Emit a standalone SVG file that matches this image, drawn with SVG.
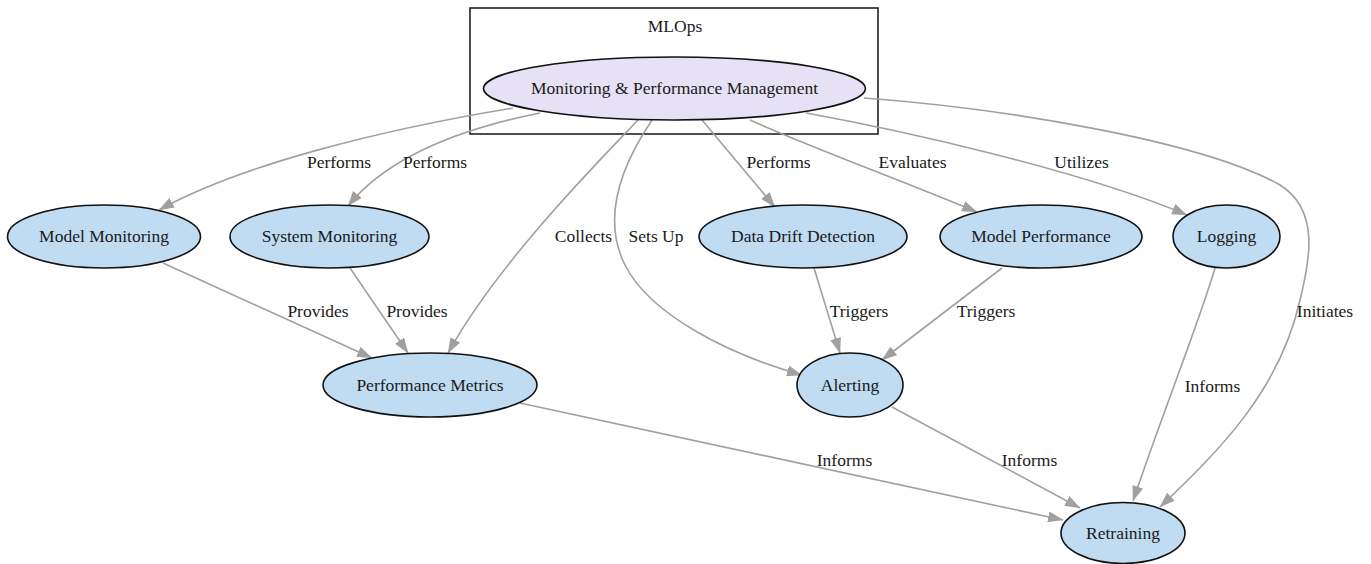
<svg xmlns="http://www.w3.org/2000/svg" width="1371" height="564" viewBox="0 0 1371 564">
<style>
  .node ellipse { fill: #BFDCF2; stroke: #111; stroke-width: 1.6; }
  .node.main ellipse { fill: #E6E1F4; }
  .nl { font-family: "Liberation Serif", "Times New Roman", serif; font-size: 17.5px; fill: #1a1a1a; text-anchor: middle; }
  .el { font-family: "Liberation Serif", "Times New Roman", serif; font-size: 17.5px; fill: #1a1a1a; text-anchor: middle; }
  .edges path { fill: none; stroke: #A0A0A0; stroke-width: 1.6; marker-end: url(#arr); }
  .cluster rect { fill: none; stroke: #222; stroke-width: 1.6; }
</style>
<defs>
  <marker id="arr" markerWidth="16" markerHeight="11" refX="15" refY="5.5" orient="auto" markerUnits="userSpaceOnUse">
    <path d="M0,0 L15.5,5.5 L0,11 Z" fill="#A0A0A0"/>
  </marker>
</defs>
<rect width="1371" height="564" fill="#ffffff"/>

<g id="cluster_mlops" class="cluster">
  <rect x="470" y="8" width="408" height="126"/>
  <text class="nl" x="675" y="32">MLOps</text>
</g>

<g id="edges" class="edges">
  <path id="e_mpm_mm" d="M513,108 C 380,130 240,165 159,210"/>
  <path id="e_mpm_sm" d="M540,113 C 455,130 385,160 348,206"/>
  <path id="e_mpm_pm" d="M638,120 C 600,160 500,260 448,353"/>
  <path id="e_mpm_al" d="M652,120 C 625,160 600,215 625,265 C 650,315 730,355 802,375"/>
  <path id="e_mpm_dd" d="M702,120 L775,207"/>
  <path id="e_mpm_mp" d="M750,120 C 800,143 900,180 977,212"/>
  <path id="e_mpm_lg" d="M806,113 C 900,130 1080,170 1187,215"/>
  <path id="e_mpm_rt" d="M864,98 C 1000,108 1200,140 1280,185 C 1320,210 1310,260 1300,300 C 1280,390 1220,450 1160,507"/>
  <path id="e_mm_pm" d="M163,263 L372,358"/>
  <path id="e_sm_pm" d="M350,268 L408,353"/>
  <path id="e_dd_al" d="M814,268 L840,353"/>
  <path id="e_mp_al" d="M1002,268 L882,360"/>
  <path id="e_lg_rt" d="M1215,268 C 1200,320 1160,420 1133,501"/>
  <path id="e_pm_rt" d="M520,403 L1063,520"/>
  <path id="e_al_rt" d="M892,407 L1080,508"/>

  <text class="el" x="339" y="168">Performs</text>
  <text class="el" x="435" y="168">Performs</text>
  <text class="el" x="583.5" y="242">Collects</text>
  <text class="el" x="656" y="242">Sets Up</text>
  <text class="el" x="778.5" y="168">Performs</text>
  <text class="el" x="912.5" y="168">Evaluates</text>
  <text class="el" x="1081.5" y="168">Utilizes</text>
  <text class="el" x="1325" y="317">Initiates</text>
  <text class="el" x="318" y="317">Provides</text>
  <text class="el" x="417" y="317">Provides</text>
  <text class="el" x="859" y="317">Triggers</text>
  <text class="el" x="986" y="317">Triggers</text>
  <text class="el" x="1212.5" y="392">Informs</text>
  <text class="el" x="844.5" y="466">Informs</text>
  <text class="el" x="1029.5" y="466">Informs</text>
</g>

<g id="node_mpm" class="node main">
  <ellipse cx="674.5" cy="88.5" rx="191" ry="31.5"/>
  <text class="nl" x="674.5" y="94">Monitoring &amp; Performance Management</text>
</g>
<g id="node_model_monitoring" class="node">
  <ellipse cx="104" cy="236.5" rx="96.5" ry="31.5"/>
  <text class="nl" x="104" y="242">Model Monitoring</text>
</g>
<g id="node_system_monitoring" class="node">
  <ellipse cx="329.5" cy="236.5" rx="99.5" ry="31.5"/>
  <text class="nl" x="329.5" y="242">System Monitoring</text>
</g>
<g id="node_data_drift" class="node">
  <ellipse cx="803" cy="236.5" rx="104" ry="31.5"/>
  <text class="nl" x="803" y="242">Data Drift Detection</text>
</g>
<g id="node_model_performance" class="node">
  <ellipse cx="1041" cy="236.5" rx="101" ry="31.5"/>
  <text class="nl" x="1041" y="242">Model Performance</text>
</g>
<g id="node_logging" class="node">
  <ellipse cx="1226.5" cy="236.5" rx="53.5" ry="31.5"/>
  <text class="nl" x="1226.5" y="242">Logging</text>
</g>
<g id="node_performance_metrics" class="node">
  <ellipse cx="430" cy="385" rx="107" ry="32"/>
  <text class="nl" x="430" y="390.5">Performance Metrics</text>
</g>
<g id="node_alerting" class="node">
  <ellipse cx="850" cy="385" rx="53" ry="32"/>
  <text class="nl" x="850" y="390.5">Alerting</text>
</g>
<g id="node_retraining" class="node">
  <ellipse cx="1123" cy="533" rx="62" ry="30.5"/>
  <text class="nl" x="1123" y="538.5">Retraining</text>
</g>
</svg>
